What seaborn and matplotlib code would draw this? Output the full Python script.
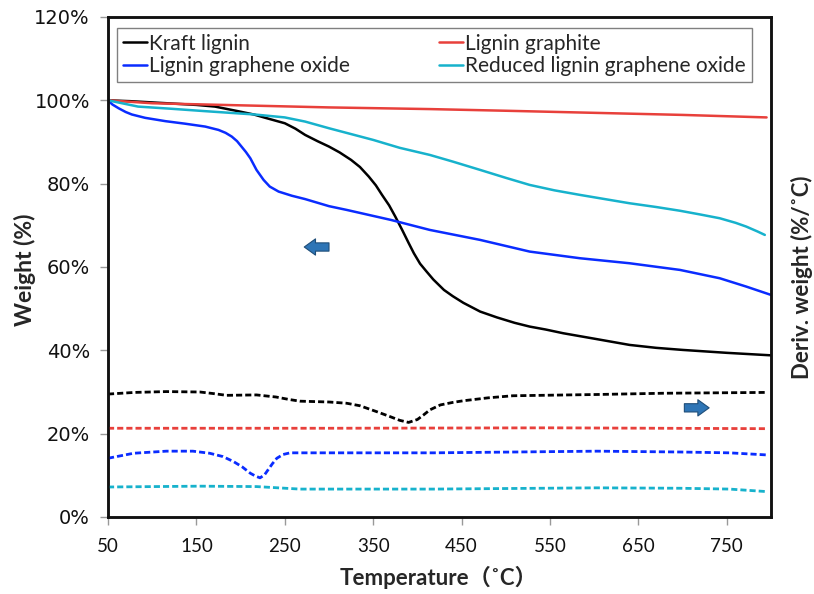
import numpy as np
import pandas as pd
import matplotlib
matplotlib.use("Agg")
import matplotlib.pyplot as plt
import seaborn as sns

# ---------------- data ----------------
# TG curves: weight (%) vs temperature (C)
kraft_T = [50, 75, 100, 125, 150, 171, 197, 215, 228, 250, 262, 273, 287, 300, 312, 325, 335,
           345, 353, 360, 368, 375, 383, 390, 396, 403, 410, 418, 430, 440, 452, 471, 490,
           510, 527, 545, 565, 600, 640, 670, 700, 750, 800]
kraft_W = [100, 99.8, 99.5, 99.2, 98.9, 98.5, 97.4, 96.6, 95.8, 94.5, 93.2, 91.7, 90.2, 88.9, 87.5, 85.7, 84.0,
           81.7, 79.6, 77.3, 74.8, 72.1, 68.8, 65.8, 63.3, 60.8, 59.0, 57.0, 54.5, 53.0, 51.4, 49.3, 47.9,
           46.6, 45.7, 45.0, 44.1, 42.8, 41.3, 40.6, 40.1, 39.4, 38.8]

graphite_T = [50, 100, 200, 300, 414, 500, 600, 700, 795]
graphite_W = [100, 99.3, 98.8, 98.3, 97.9, 97.5, 97.0, 96.5, 95.9]

lgo_T = [50, 55, 62, 70, 77, 92, 115, 137, 160, 175, 183, 190, 196, 201, 206, 211, 218, 226,
         233, 243, 258, 273, 300, 320, 370, 414, 471, 527, 584, 640, 697, 742, 772, 800]
lgo_W = [100, 99.0, 98.1, 97.2, 96.6, 95.8, 95.0, 94.4, 93.7, 92.9, 92.2, 91.3, 90.2, 88.9, 87.6, 86.1, 83.3, 80.9,
         79.3, 78.1, 77.1, 76.3, 74.6, 73.7, 71.3, 68.9, 66.5, 63.7, 62.1, 60.9, 59.3, 57.3, 55.3, 53.3]

rlgo_T = [50, 84, 120, 160, 216, 250, 273, 300, 325, 350, 380, 414, 440, 471, 500, 527, 555,
          584, 612, 640, 670, 697, 720, 742, 760, 772, 785, 793]
rlgo_W = [100, 98.5, 98.0, 97.4, 96.6, 95.9, 94.9, 93.3, 91.9, 90.5, 88.6, 86.9, 85.3, 83.3, 81.4, 79.7, 78.4,
          77.3, 76.3, 75.3, 74.4, 73.5, 72.6, 71.7, 70.6, 69.7, 68.5, 67.7]

# DTG curves (right axis, drawn on the same visual scale, offset per sample)
dtg_kraft_T = [50, 80, 116, 154, 170, 184, 218, 240, 255, 267, 300, 320, 335, 343, 355, 369,
               380, 390, 400, 407, 414, 426, 440, 452, 480, 508, 603, 678, 795]
dtg_kraft_W = [29.5, 29.9, 30.1, 30.0, 29.6, 29.2, 29.3, 28.8, 28.2, 27.8, 27.6, 27.3, 26.7, 26.1, 25.2, 24.1,
               23.2, 22.7, 23.4, 24.5, 25.7, 26.9, 27.5, 27.9, 28.6, 29.1, 29.4, 29.7, 29.9]

dtg_graphite_T = [50, 300, 550, 795]
dtg_graphite_W = [21.3, 21.3, 21.4, 21.2]

dtg_lgo_T = [50, 79, 116, 146, 165, 180, 192, 202, 211, 217, 222, 227, 231, 236, 241, 248, 256,
             305, 418, 603, 697, 753, 795]
dtg_lgo_W = [14.1, 15.3, 15.8, 15.8, 15.3, 14.5, 13.3, 12.0, 10.5, 9.8, 9.4, 10.1, 11.3, 12.8, 14.1, 15.0, 15.4,
             15.4, 15.4, 15.8, 15.6, 15.4, 14.9]

dtg_rlgo_T = [50, 154, 218, 267, 418, 603, 697, 753, 795]
dtg_rlgo_W = [7.2, 7.4, 7.3, 6.7, 6.7, 7.0, 6.9, 6.7, 6.1]

labels = ["Kraft lignin", "Lignin graphite", "Lignin graphene oxide",
          "Reduced lignin graphene oxide"]
colors = ["#000000", "#e8403b", "#0a2cff", "#17b2cc"]

x_ticks = [50, 150, 250, 350, 450, 550, 650, 750]
y_ticks = [0, 20, 40, 60, 80, 100, 120]

# arrow annotations: (tail x, tip x, y)
left_arrow = (300, 272, 64.8)
right_arrow = (702, 730, 26.2)

# ---------------- plotting ----------------
sns.set_theme(style="white")
plt.rcParams["font.family"] = ["Lato", "Noto Sans CJK SC", "DejaVu Sans"]

fig = plt.figure(figsize=(8.14, 5.94), dpi=100)
ax = fig.add_axes([108 / 814, 1 - 517 / 594, 663 / 814, 500 / 594])
ax2 = ax.twinx()

tg_sets = [(kraft_T, kraft_W), (graphite_T, graphite_W), (lgo_T, lgo_W), (rlgo_T, rlgo_W)]
dtg_sets = [(dtg_kraft_T, dtg_kraft_W), (dtg_graphite_T, dtg_graphite_W),
            (dtg_lgo_T, dtg_lgo_W), (dtg_rlgo_T, dtg_rlgo_W)]

for (T, W), lab, c in zip(tg_sets, labels, colors):
    sns.lineplot(x=T, y=W, ax=ax, color=c, linewidth=1.8, label=lab)

for (T, W), c in zip(dtg_sets, colors):
    sns.lineplot(x=T, y=W, ax=ax2, color=c, linewidth=2.0)
for ln in ax2.get_lines():
    ln.set_dashes((2.2, 1.1))

for a in (ax, ax2):
    a.set_xlim(50, 800)
    a.set_ylim(0, 120)

ax.set_xticks(x_ticks)
ax.set_xticklabels([str(v) for v in x_ticks])
ax.set_yticks(y_ticks)
ax.set_yticklabels([f"{v}%" for v in y_ticks])
ax.tick_params(axis="x", bottom=True, direction="out", length=6, width=1, color="#999999", pad=9,
               labelsize=13.5, labelcolor="#111111")
ax.tick_params(axis="y", left=True, direction="out", length=6, width=1, color="#999999", pad=7,
               labelsize=14, labelcolor="#111111")
for t in ax.get_yticklabels():
    t.set_fontfamily(["DejaVu Sans"])
    t.set_fontsize(14)
ax2.set_yticks([])
ax2.tick_params(right=False, labelright=False)

for a in (ax, ax2):
    for sp in a.spines.values():
        sp.set_color("#111111")
        sp.set_linewidth(1.8)

ax.set_xlabel("Temperature（˚C）", fontsize=16, fontweight="bold")
ax.xaxis.label.set_va("center")
ax.xaxis.set_label_coords(0.499, -0.12)
ax.set_ylabel("Weight (%)", fontsize=16.5, fontweight="bold")
ax.yaxis.label.set_va("center")
ax.yaxis.set_label_coords(-0.125, 0.494)
ax2.set_ylabel("Deriv. weight (%/˚C)", fontsize=16, fontweight="bold")
ax2.yaxis.label.set_va("center")
ax2.yaxis.set_label_coords(1.046, 0.48)

handles, labs = ax.get_legend_handles_labels()
order = [0, 2, 1, 3]
leg = ax.legend([handles[i] for i in order], [labs[i] for i in order],
                loc="upper left", bbox_to_anchor=(0.0136, 0.979),
                ncol=2, fontsize=15, frameon=True, fancybox=False, framealpha=1,
                edgecolor="#808080", handlelength=1.15, handletextpad=0.08,
                columnspacing=4.3, borderpad=0.3, labelspacing=0.1, borderaxespad=0)
leg.get_frame().set_linewidth(1.0)

for tail, tip, yv in (left_arrow, right_arrow):
    ax.annotate("", xy=(tip, yv), xytext=(tail, yv),
                arrowprops=dict(arrowstyle="simple,head_length=0.45,head_width=0.65,tail_width=0.33",
                                fc="#2e75b6", ec="#1f4e79", lw=0.8, shrinkA=0, shrinkB=0,
                                mutation_scale=18))

fig.savefig("out.png", dpi=100, facecolor="white")
